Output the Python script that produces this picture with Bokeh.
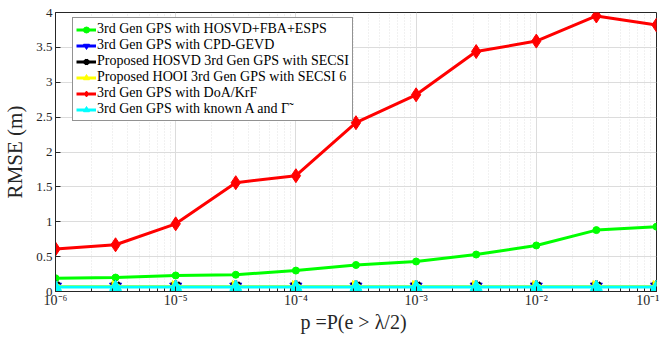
import numpy as np
from bokeh.plotting import figure
from bokeh.models import (Legend, LegendItem, FixedTicker,
                          CustomJSTickFormatter, NumeralTickFormatter, LogTicker, Range1d)
from bokeh.embed import file_html
from bokeh.resources import INLINE

p_vals = [1e-6, 3.16e-6, 1e-5, 3.16e-5, 1e-4, 3.16e-4, 1e-3, 3.16e-3, 1e-2, 3.16e-2, 1e-1]
hosvd_fba = [0.19, 0.20, 0.23, 0.24, 0.30, 0.38, 0.43, 0.53, 0.66, 0.88, 0.93]
cpd_gevd = [0.07, 0.07, 0.07, 0.07, 0.07, 0.07, 0.07, 0.07, 0.07, 0.07, 0.07]
hosvd_secsi = [0.07, 0.07, 0.07, 0.07, 0.07, 0.07, 0.07, 0.07, 0.07, 0.07, 0.07]
hooi_secsi = [0.07, 0.07, 0.07, 0.07, 0.07, 0.07, 0.07, 0.07, 0.07, 0.07, 0.07]
doa_krf = [0.61, 0.67, 0.97, 1.56, 1.66, 2.42, 2.82, 3.44, 3.59, 3.95, 3.82]
known = [0.065, 0.065, 0.065, 0.065, 0.065, 0.065, 0.065, 0.065, 0.065, 0.065, 0.065]

labels = ["3rd Gen GPS with HOSVD+FBA+ESPS",
          "3rd Gen GPS with CPD-GEVD",
          "Proposed HOSVD 3rd Gen GPS with SECSI",
          "Proposed HOOI 3rd Gen GPS with SECSI 6",
          "3rd Gen GPS with DoA/KrF",
          "3rd Gen GPS with known A and \u0393\u0303"]
y_ticks = [0, 0.5, 1, 1.5, 2, 2.5, 3, 3.5, 4]

FONT = "Liberation Serif"
AX = "#262626"

p = figure(width=659, height=335, x_axis_type="log", output_backend="svg",
           toolbar_location=None, x_range=Range1d(1e-6, 1e-1), y_range=Range1d(0, 4),
           min_border_left=55, min_border_right=3, min_border_top=12, min_border_bottom=43)
p.background_fill_color = "white"
p.outline_line_color = AX
p.outline_line_width = 1

sup = CustomJSTickFormatter(code="""
const m = {'-':'\u207b','0':'\u2070','1':'\u00b9','2':'\u00b2','3':'\u00b3','4':'\u2074','5':'\u2075','6':'\u2076','7':'\u2077','8':'\u2078','9':'\u2079'};
const e = Math.round(Math.log10(tick)).toString();
let s = '';
for (const c of e) s += m[c];
return '10' + s;
""")

xa = p.xaxis[0]
xa.ticker = LogTicker(desired_num_ticks=6, num_minor_ticks=10)
xa.formatter = sup
ya = p.yaxis[0]
ya.ticker = FixedTicker(ticks=y_ticks)
ya.formatter = NumeralTickFormatter(format="0.[0]")
for ax in (xa, ya):
    ax.major_label_text_font = FONT
    ax.major_label_text_font_size = "13px"
    ax.major_label_text_color = AX
    ax.axis_line_color = AX
    ax.major_tick_line_color = AX
    ax.minor_tick_line_color = AX
    ax.major_tick_in = 5
    ax.major_tick_out = 0
    ax.minor_tick_in = 3
    ax.minor_tick_out = 0
    ax.axis_label_text_font = FONT
    ax.axis_label_text_font_style = "normal"
    ax.axis_label_text_font_size = "21px"
    ax.axis_label_text_color = AX
    ax.major_label_standoff = 3
xa.major_label_text_font_size = "14px"
xa.major_label_standoff = 1
xa.axis_label_text_font_size = "20px"
ya.minor_tick_line_color = None
xa.axis_label = "p  =P(e > \u03bb/2)"
ya.axis_label = "RMSE (m)"
xa.axis_label_standoff = 0
ya.axis_label_standoff = 6

p.xgrid.grid_line_color = "#dcdcdc"
p.xgrid.minor_grid_line_color = "#e2e2e2"
p.xgrid.minor_grid_line_dash = "1 2"
p.xgrid.ticker = xa.ticker
p.ygrid.grid_line_color = "#dcdcdc"
p.ygrid.ticker = ya.ticker

lw = 3
items = []
r1 = p.line(p_vals, hosvd_fba, color="#00ff00", line_width=lw)
m1 = p.scatter(p_vals, hosvd_fba, marker="circle", size=7, color="#00ff00")
items.append(LegendItem(label=labels[0], renderers=[r1, m1]))

r2 = p.line(p_vals, cpd_gevd, color="#0000ff", line_width=lw)
m2 = p.scatter(p_vals, cpd_gevd, marker="inverted_triangle", size=12, color="#0000ff")
items.append(LegendItem(label=labels[1], renderers=[r2, m2]))

r3 = p.line(p_vals, hosvd_secsi, color="black", line_width=lw)
m3 = p.scatter(p_vals, hosvd_secsi, marker="asterisk", size=12, line_color="black", line_width=3)
items.append(LegendItem(label=labels[2], renderers=[r3, m3]))

r4 = p.line(p_vals, hooi_secsi, color="#ffff00", line_width=lw)
m4 = p.scatter(p_vals, hooi_secsi, marker="triangle", angle=-np.pi / 2, size=12, color="#ffff00")
items.append(LegendItem(label=labels[3], renderers=[r4, m4]))

r5 = p.line(p_vals, doa_krf, color="#ff0000", line_width=lw)
m5 = p.scatter(p_vals, doa_krf, marker="diamond", size=14, color="#ff0000")
items.append(LegendItem(label=labels[4], renderers=[r5, m5]))

r6 = p.line(p_vals, known, color="#00ffff", line_width=lw)
m6 = p.scatter(p_vals, known, marker="triangle", size=12, color="#00ffff")
items.append(LegendItem(label=labels[5], renderers=[r6, m6]))

leg = Legend(items=items, location=(17, 170))
leg.margin = 0
leg.padding = 3
leg.spacing = 0
leg.glyph_width = 20
leg.glyph_height = 15
leg.label_height = 15
leg.label_standoff = 1
leg.label_text_font = FONT
leg.label_text_font_size = "14px"
leg.label_text_color = "black"
leg.border_line_color = AX
leg.border_line_width = 1
leg.background_fill_alpha = 1
p.add_layout(leg)

open("out.html", "w").write(file_html(p, INLINE))
